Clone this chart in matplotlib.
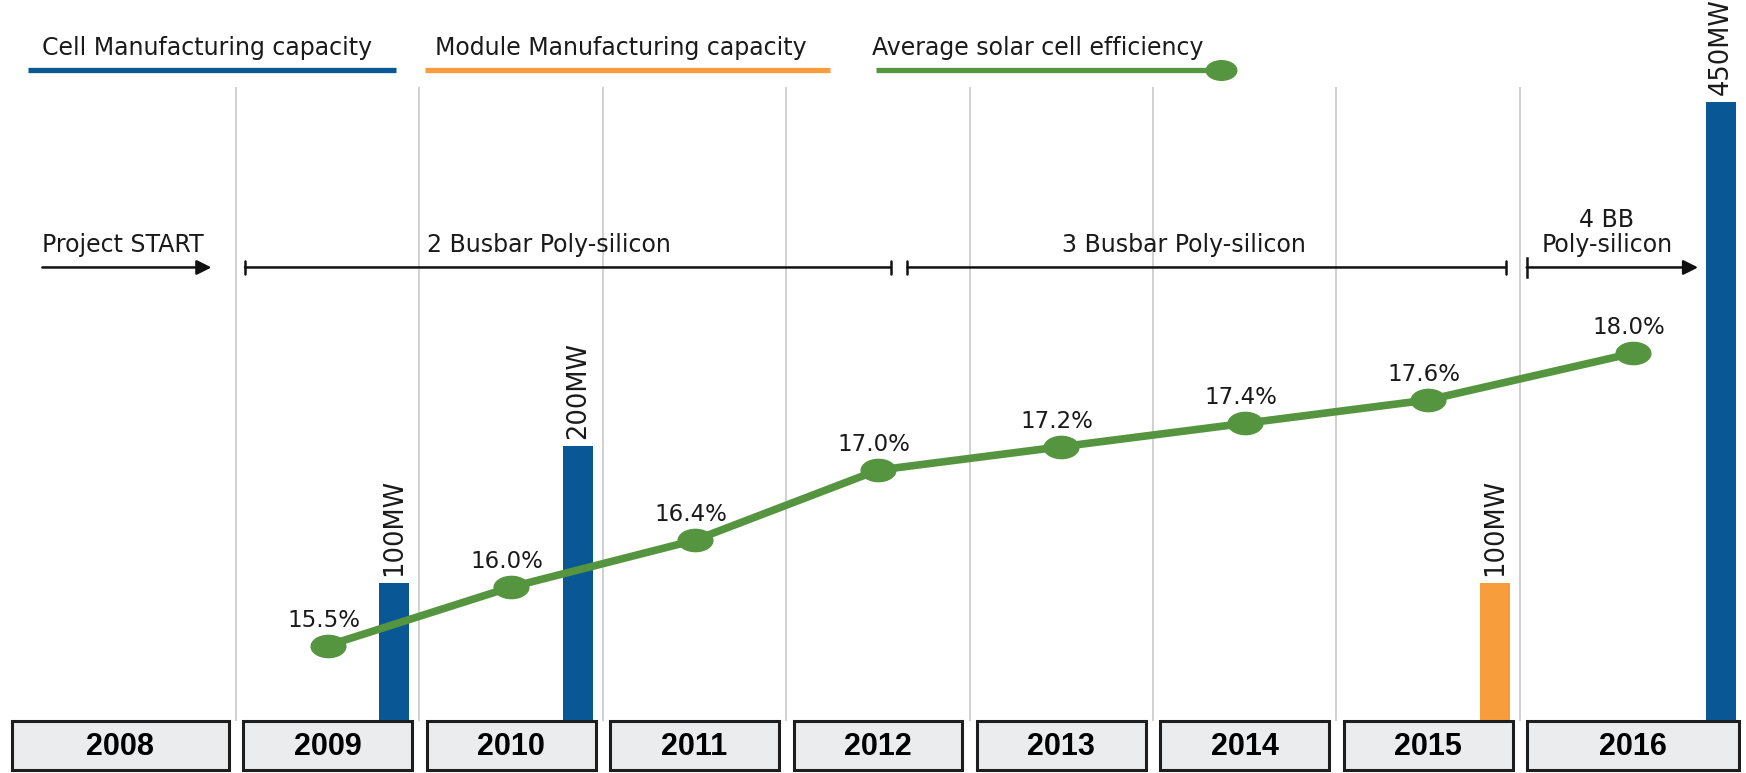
import matplotlib.pyplot as plt
from matplotlib.path import Path
from matplotlib.patches import Rectangle
from matplotlib.markers import MarkerStyle

# datos
years = [2008, 2009, 2010, 2011, 2012, 2013, 2014, 2015, 2016]
eff_years = [2009, 2010, 2011, 2012, 2013, 2014, 2015, 2016]
efficiency = [15.5, 16.0, 16.4, 17.0, 17.2, 17.4, 17.6, 18.0]
cell_years = [2009, 2010, 2016]
cell_mw = [100, 200, 450]
module_years = [2015]
module_mw = [100]
legend_labels = ['Cell Manufacturing capacity', 'Module Manufacturing capacity',
                 'Average solar cell efficiency']
phase_labels = ['Project START', '2 Busbar Poly-silicon', '3 Busbar Poly-silicon',
                '4 BB\nPoly-silicon']

# colores
BLUE = '#0a5796'
ORANGE = '#f89d3b'
GREEN = '#56953f'
TXT = '#1a1a1a'

plt.rcParams['font.family'] = ['DejaVu Sans']

fig = plt.figure(figsize=(17.46, 7.73), dpi=100)
ax = fig.add_axes([0, 0, 1, 1])
ax2 = ax.twinx()

# columnas: 2009 centrada en x=1, ancho 1; 2008 y 2016 algo mas anchas
edges = [-0.763] + [i + 0.5 for i in range(8)] + [8.733]
centers = [(edges[i] + edges[i + 1]) / 2 for i in range(len(years))]
pos = dict(zip(years, centers))
right = dict(zip(years, edges[1:]))

ax.set_xlim(-0.787, 8.733)
ax.set_ylim(-38.1, 523.9)      # MW
ax2.set_ylim(14.41, 21.02)     # %
for a in (ax, ax2):
    a.axis('off')

tr = ax.get_xaxis_transform()
base = 0.0677   # borde superior de las cajas de los anos

# lineas verticales entre anos
ax.vlines(edges[1:-1], base, 0.887, transform=tr, color='#c9c9c9', lw=1.2, zorder=0)

# barras de capacidad, pegadas a la derecha de su columna
bw = 0.164
gap = 0.055
cell_x = [right[y] - gap - bw / 2 for y in cell_years]
mod_x = [right[y] - gap - bw / 2 for y in module_years]
ax.bar(cell_x, cell_mw, width=bw, color=BLUE, zorder=2)
ax.bar(mod_x, module_mw, width=bw, color=ORANGE, zorder=2)
for x, v in list(zip(cell_x, cell_mw)) + list(zip(mod_x, module_mw)):
    ax.annotate(f'{v}MW', (x, v), xytext=(0, 5), textcoords='offset points',
                rotation=90, ha='center', va='bottom', fontsize=18.5, color=TXT)

# linea de eficiencia con marcadores elipticos
circ = Path.unit_circle()
ell = Path(circ.vertices * [1.0, 0.64], circ.codes)
ex = [pos[y] for y in eff_years]
ax2.plot(ex, efficiency, color=GREEN, lw=5.5, marker=MarkerStyle(ell),
         markersize=25, zorder=3)
for x, v in zip(ex, efficiency):
    ax2.annotate(f'{v:.1f}%', (x, v), xytext=(-3, 10), textcoords='offset points',
                 ha='center', va='bottom', fontsize=16.5, color=TXT)

# cajas de los anos
for i, y in enumerate(years):
    x0 = edges[i] + 0.04
    x1 = edges[i + 1] - 0.04
    ax.add_patch(Rectangle((x0, 0.004), x1 - x0, base - 0.004, transform=tr,
                           facecolor='#ebecee', edgecolor='#1e1e1e', lw=2.2,
                           zorder=4, clip_on=False))
    ax.text((x0 + x1) / 2, 0.034, str(y), transform=tr, ha='center', va='center',
            fontsize=22, fontweight='bold', family='Liberation Sans', zorder=5)

# leyenda superior
leg = [(-0.635, 1.374, BLUE, -0.556), (1.532, 3.736, ORANGE, 1.587),
       (3.99, 5.89, GREEN, 3.967)]
for (a0, a1, c, tx), lab in zip(leg, legend_labels):
    ax.plot([a0, a1], [0.909, 0.909], transform=tr, color=c, lw=3.8,
            solid_capstyle='butt', clip_on=False)
    ax.text(tx, 0.922, lab, transform=tr, ha='left', va='bottom', fontsize=17,
            color=TXT)
ax.plot([5.87], [0.909], transform=tr, color=GREEN, marker=MarkerStyle(ell),
        markersize=22, clip_on=False)

# fases (flechas)
ya = 0.654
ty = 0.667
arrow = dict(arrowstyle='-|>', color='#111111', lw=1.8, mutation_scale=22,
             shrinkA=0, shrinkB=0)
span = dict(arrowstyle='|-|, widthA=0.25, widthB=0.25', color='#111111', lw=1.8,
            mutation_scale=20, shrinkA=0, shrinkB=0)

ax.annotate('', xy=(0.366, ya), xytext=(-0.556, ya), xycoords=tr, arrowprops=arrow)
ax.text(-0.556, ty, phase_labels[0], transform=tr, ha='left', va='bottom',
        fontsize=17, color=TXT)

ax.annotate('', xy=(4.07, ya), xytext=(0.549, ya), xycoords=tr, arrowprops=span)
ax.text(2.206, ty, phase_labels[1], transform=tr, ha='center', va='bottom',
        fontsize=17, color=TXT)

ax.annotate('', xy=(7.422, ya), xytext=(4.161, ya), xycoords=tr, arrowprops=span)
ax.text(5.667, ty, phase_labels[2], transform=tr, ha='center', va='bottom',
        fontsize=17, color=TXT)

ax.annotate('', xy=(8.472, ya), xytext=(7.537, ya), xycoords=tr, arrowprops=arrow)
ax.plot([7.537, 7.537], [ya - 0.012, ya + 0.012], transform=tr, color='#111111', lw=1.8)
ax.text(7.974, ty, phase_labels[3], transform=tr, ha='center', va='bottom',
        fontsize=17, linespacing=1.05, color=TXT)

fig.savefig('out.png', dpi=100)
